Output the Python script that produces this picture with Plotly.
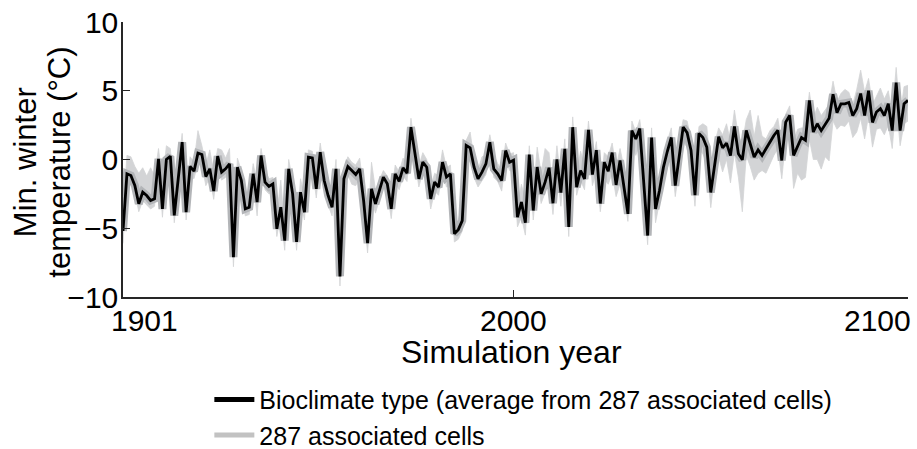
import plotly.graph_objects as go

YEARS = list(range(1901, 2101))

MEAN = [
    -5.2, -1.04, -1.16, -1.89, -3.22, -2.38, -2.62, -2.98, -2.86, 0.05,
    -3.59, 0.0, 0.24, -4.07, -1.4, 1.26, -3.83, -0.51, -0.85, 0.46,
    0.36, -1.24, -0.68, -2.3, 0.24, -0.92, -0.68, -0.32, -7.1, -0.56,
    -1.53, -3.59, -3.47, -1.04, -3.1, 0.29, -1.65, -1.96, -1.77, -5.04,
    -3.47, -5.9, -0.68, -2.5, -6.0, -2.38, -3.83, 0.17, 0.12, -2.13,
    0.53, -1.53, -2.62, -3.47, -0.68, -8.5, -1.4, -0.51, -0.8, -1.09,
    -0.68, -3.0, -6.08, -2.13, -3.22, -2.25, -1.28, -1.77, -3.59, -1.04,
    -1.58, -0.61, -0.99, 2.35, 0.41, -1.41, -0.19, -0.56, -2.86, -1.65,
    -2.01, -0.19, -1.28, -1.04, -5.4, -5.1, -4.44, 1.02, 0.85, -0.56,
    -1.41, -0.92, -0.32, 1.26, -0.68, -1.04, -1.53, 0.65, -0.2, -0.05,
    -4.2, -3.1, -4.6, 0.35, -3.71, -0.55, -2.5, -1.65, -0.6, -3.18,
    0.0, -2.4, 0.78, -4.9, 2.35, -2.01, -0.8, -1.41, 2.15, -1.1,
    0.68, -3.2, -0.2, -0.85, 0.5, -1.85, -0.07, -1.9, -3.95, 2.1,
    1.5, 2.25, -1.9, -5.53, 1.6, -3.6, -2.25, -0.56, 0.6, 1.6,
    -1.9, 0.4, 2.35, 1.95, 0.65, -2.6, 1.9, 1.6, 0.9, -2.4,
    -0.2, 1.65, 0.85, 1.19, 0.29, 2.4, 0.41, -0.02, 2.11, 1.14,
    0.17, 0.7, 0.29, 0.78, 1.26, 1.75, 2.11, -0.07, 2.72, 3.2,
    0.3, 1.0, 1.6, 1.4, 4.3, 2.0, 2.6, 2.1, 2.6, 3.0,
    4.75, 3.4, 4.05, 4.05, 4.15, 3.2, 3.7, 4.8, 3.2, 5.0,
    2.7, 3.45, 3.7, 3.2, 4.05, 2.1, 5.6, 2.1, 4.05, 4.3,
]

UPPER = [
    -3.8, 0.3, 0.2, -0.5, -1.0, -0.6, -1.2, -0.6, -1.2, 0.8,
    -1.6, 1.0, 0.8, -2.4, -0.4, 1.9, -2.6, 0.2, -0.2, 2.1,
    1.0, -0.4, 0.7, -0.9, 0.8, 0.7, 0.1, 0.8, -6.3, 0.1,
    -0.8, -2.8, -2.6, -0.3, -1.7, 0.8, -0.8, -1.4, -1.3, -4.0,
    -1.5, -5.2, 0.0, -1.5, -5.3, -1.4, -2.7, 0.7, 0.6, -1.3,
    1.2, -0.8, -1.8, -2.6, 0.0, -7.8, -0.7, 0.2, -0.2, -0.4,
    0.1, -2.2, -5.3, -0.2, -2.2, -1.5, -0.8, -1.2, -2.8, -0.4,
    -0.9, 0.1, -0.3, 3.0, 0.9, -0.5, 0.5, 0.0, -2.0, -1.0,
    -1.2, 0.7, -0.6, -0.4, -4.8, -4.4, -3.3, 1.4, 2.0, 0.0,
    -0.8, 0.2, 0.3, 1.8, 0.3, -0.3, -0.8, 1.2, 0.4, 0.5,
    -3.4, -1.8, -3.0, 1.0, -2.6, 0.9, -1.0, 0.8, 0.5, -2.2,
    1.0, -1.5, 1.5, -4.2, 3.1, -1.0, 0.6, -0.5, 2.8, -0.2,
    1.3, -2.3, 0.5, 0.2, 1.2, -0.6, 0.8, -0.6, -2.9, 2.8,
    2.0, 2.9, 0.7, -4.7, 2.3, -2.7, -1.3, 0.4, 1.4, 2.3,
    -1.0, 1.3, 2.9, 2.8, 1.5, -1.6, 2.4, 2.6, 2.4, -1.0,
    1.2, 2.3, 1.8, 2.6, 1.3, 3.6, 1.7, 1.2, 2.9, 3.6,
    1.7, 3.2, 1.7, 1.5, 2.1, 2.4, 3.0, 1.2, 3.3, 3.9,
    1.3, 2.2, 2.3, 2.3, 4.9, 3.0, 3.8, 3.2, 3.6, 4.0,
    5.7, 4.2, 4.8, 5.1, 4.9, 4.0, 5.1, 6.5, 4.9, 5.9,
    4.0, 4.6, 5.2, 4.4, 5.0, 3.3, 6.7, 3.2, 5.3, 5.4,
]

LOWER = [
    -6.1, -1.5, -1.7, -2.4, -3.8, -3.0, -3.3, -3.6, -3.4, -0.6,
    -4.2, -0.4, -0.5, -4.6, -2.0, 0.6, -4.4, -1.2, -1.4, -0.2,
    -0.4, -1.9, -1.3, -2.9, -0.4, -1.5, -1.3, -1.0, -7.8, -1.1,
    -2.1, -4.1, -4.0, -1.6, -4.1, -0.4, -2.2, -2.5, -2.4, -5.6,
    -4.0, -6.6, -1.3, -3.2, -6.6, -3.0, -4.4, -0.4, -0.6, -2.8,
    0.0, -2.1, -3.3, -4.1, -1.3, -9.2, -2.0, -1.1, -1.8, -1.9,
    -1.3, -3.8, -6.8, -2.8, -3.9, -2.9, -1.9, -2.4, -4.3, -1.6,
    -2.2, -1.2, -1.6, 1.8, -0.3, -2.0, -0.9, -1.3, -3.6, -2.3,
    -2.6, -0.8, -2.0, -1.9, -6.0, -5.8, -5.2, 0.3, 0.2, -1.3,
    -2.0, -1.5, -1.1, 0.6, -1.3, -1.6, -2.3, 0.0, -0.8, -0.9,
    -4.9, -4.2, -5.5, -0.5, -4.4, -1.3, -3.2, -2.4, -1.4, -4.0,
    -0.8, -3.4, -0.2, -5.6, 1.5, -2.6, -1.5, -2.2, 1.4, -1.9,
    -0.8, -3.8, -1.4, -1.8, -1.0, -2.7, -1.8, -2.6, -4.5, 0.9,
    0.3, 1.2, -2.6, -6.2, 0.5, -4.6, -3.1, -1.6, -0.6, 0.4,
    -2.7, -0.6, 1.3, 0.9, -0.5, -3.4, 0.8, 0.4, -0.3, -3.5,
    -1.0, 0.2, -0.9, 0.0, -1.7, 0.5, -1.3, -3.8, 0.3, -0.5,
    -1.5, -1.0, -0.8, -1.0, -0.3, 0.3, 0.8, -1.4, 1.4, 1.9,
    -2.1, -1.0, -1.5, -1.3, 1.5, 0.0, 0.0, -0.7, 0.2, -0.1,
    2.8, 2.2, 2.5, 2.4, 2.8, 1.6, 2.0, 3.0, 1.5, 3.2,
    0.9, 2.2, 2.3, 1.8, 2.5, 0.8, 4.2, 1.0, 2.6, 2.8,
]

TICK_YEARS = [1901, 2000, 2100]
TICK_LABELS = ["1901", "2000", "2100"]
TICK_LABEL_SHIFT = [21, 0, -31]
Y_TICKS = [-10, -5, 0, 5, 10]

MEAN_NAME = "Bioclimate type (average from 287 associated cells)"
CELLS_NAME = "287 associated cells"
X_TITLE = "Simulation year"
Y_TITLE_LINES = ["Min. winter", "temperature (°C)"]

FONT = "Liberation Sans, Arial, sans-serif"
AXIS_COLOR = "#262626"

fig = go.Figure()

# envelope of the associated cells
fig.add_trace(go.Scatter(x=YEARS, y=UPPER, mode="lines",
                         line=dict(color="#d3d4d6", width=0.8),
                         showlegend=False, hoverinfo="skip"))
fig.add_trace(go.Scatter(x=YEARS, y=LOWER, mode="lines",
                         line=dict(color="#d3d4d6", width=0.8),
                         fill="tonexty", fillcolor="#d3d4d6",
                         showlegend=False, hoverinfo="skip"))
# dense core of cell lines around the mean
fig.add_trace(go.Scatter(x=YEARS, y=MEAN, mode="lines",
                         line=dict(color="#b3b5b8", width=8),
                         showlegend=False, hoverinfo="skip"))
# mean line
fig.add_trace(go.Scatter(x=YEARS, y=MEAN, mode="lines",
                         line=dict(color="black", width=2.8),
                         showlegend=False))

# legend entries
fig.add_trace(go.Scatter(x=[None], y=[None], mode="lines",
                         line=dict(color="black", width=5), name=MEAN_NAME))
fig.add_trace(go.Scatter(x=[None], y=[None], mode="lines",
                         line=dict(color="#c2c2c2", width=5), name=CELLS_NAME))

annotations = []
for yr, lab, sh in zip(TICK_YEARS, TICK_LABELS, TICK_LABEL_SHIFT):
    annotations.append(dict(x=yr, xref="x", y=-0.085, yref="paper", text=lab,
                            showarrow=False, xanchor="center", yanchor="middle",
                            xshift=sh, font=dict(family=FONT, size=30, color="black")))
annotations.append(dict(x=0.495, xref="paper", y=-0.2, yref="paper", text=X_TITLE,
                        showarrow=False, xanchor="center", yanchor="middle",
                        font=dict(family=FONT, size=32, color="black")))
for xp, line in zip([-0.125, -0.081], Y_TITLE_LINES):
    annotations.append(dict(x=xp, xref="paper", y=0.49, yref="paper", text=line,
                            textangle=-90, showarrow=False, xanchor="center",
                            yanchor="middle",
                            font=dict(family=FONT, size=31, color="black")))

fig.update_layout(
    width=917, height=449,
    margin=dict(l=123, r=9, t=22, b=152, autoexpand=False),
    paper_bgcolor="white", plot_bgcolor="white",
    font=dict(family=FONT, color="black"),
    showlegend=True,
    legend=dict(x=0.11, y=-0.29, xanchor="left", yanchor="top",
                traceorder="normal",
                font=dict(family=FONT, size=25, color="black"),
                bgcolor="rgba(0,0,0,0)", itemwidth=40, tracegroupgap=0),
    annotations=annotations,
    xaxis=dict(range=[1901, 2100], tickvals=TICK_YEARS, ticktext=TICK_LABELS,
               showticklabels=False, ticks="inside", ticklen=7, tickwidth=1.3,
               tickcolor=AXIS_COLOR, showline=True, linecolor=AXIS_COLOR,
               linewidth=1.5, showgrid=False, zeroline=False, mirror=False),
    yaxis=dict(range=[-10, 10], tickvals=Y_TICKS, ticks="inside", ticklen=7,
               tickwidth=1.3, tickcolor=AXIS_COLOR, showline=True,
               linecolor=AXIS_COLOR, linewidth=1.5, showgrid=False,
               zeroline=False, mirror=False, ticklabelstandoff=-3,
               tickfont=dict(family=FONT, size=30, color="black")),
)

fig.write_html("out.html", config={"displayModeBar": False},
               post_script="document.body.style.margin='0px';")
